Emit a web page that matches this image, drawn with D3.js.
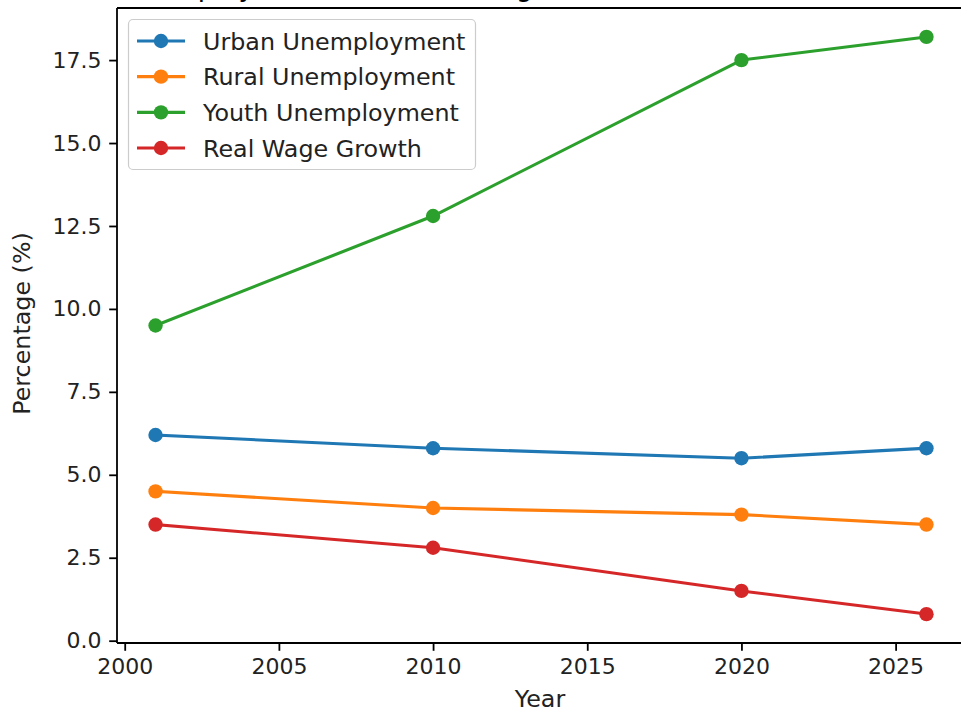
<!DOCTYPE html>
<html>
<head>
<meta charset="utf-8">
<script src="https://cdn.jsdelivr.net/npm/d3@7"></script>
<style>
html,body{margin:0;padding:0;background:#fff;overflow:hidden;}
svg{display:block;font-family:"DejaVu Sans",sans-serif;}
</style>
</head>
<body>
<svg id="chart" width="961" height="713"></svg>
<script>
const years = [2001, 2010, 2020, 2026];
const seriesNames = ["Urban Unemployment", "Rural Unemployment", "Youth Unemployment", "Real Wage Growth"];
const urban = [6.2, 5.8, 5.5, 5.8];
const rural = [4.5, 4.0, 3.8, 3.5];
const youth = [9.5, 12.8, 17.5, 18.2];
const wage = [3.5, 2.8, 1.5, 0.8];
const xTicks = [2000, 2005, 2010, 2015, 2020, 2025];
const yTicks = [0, 2.5, 5, 7.5, 10, 12.5, 15, 17.5];
const colors = ["#1f77b4", "#ff7f0e", "#2ca02c", "#d62728"];
const titleText = "Unemployment Rates and Wage Growth Trends (2001–2026)";

const series = [urban, rural, youth, wage].map((vals, i) => ({
  name: seriesNames[i], color: colors[i],
  values: vals.map((v, j) => ({year: years[j], value: v}))
}));

const svg = d3.select("#chart");
const L = 117, R = 965, T = 8, B = 643;
const fs = 22;
const fsLab = 23.8;

const x = d3.scaleLinear().domain([1999.75, 2027.25]).range([L, R]);
const y = d3.scaleLinear().domain([-0.07, 19.07]).range([B, T]);

// title (mostly above the visible area, as in the reference)
svg.append("text")
  .attr("x", 119).attr("y", -4.5)
  .attr("text-anchor", "start")
  .attr("font-size", 26.7)
  .attr("fill", "#000")
  .text(titleText);

// lines
const line = d3.line().x(d => x(d.year)).y(d => y(d.value));
const g = svg.append("g");
series.forEach(s => {
  g.append("path")
    .datum(s.values)
    .attr("d", line)
    .attr("fill", "none")
    .attr("stroke", s.color)
    .attr("stroke-width", 3.1)
    .attr("stroke-linejoin", "round")
    .attr("stroke-linecap", "square");
  g.selectAll(null).data(s.values).enter().append("circle")
    .attr("cx", d => x(d.year)).attr("cy", d => y(d.value))
    .attr("r", 7.2).attr("fill", s.color);
});

// spines (right spine lies outside the visible area)
const spine = svg.append("g").attr("stroke", "#000").attr("stroke-width", 1.8).attr("fill", "none");
spine.append("line").attr("x1", L).attr("x2", L).attr("y1", T).attr("y2", B);
spine.append("line").attr("x1", L).attr("x2", R + 10).attr("y1", T).attr("y2", T);
spine.append("line").attr("x1", L).attr("x2", R + 10).attr("y1", B).attr("y2", B);

// axes
const xAxis = d3.axisBottom(x).tickValues(xTicks).tickFormat(d3.format("d"))
  .tickSize(7.8).tickPadding(7.8).tickSizeOuter(0);
const gx = svg.append("g").attr("transform", `translate(0,${B})`).call(xAxis);
gx.select(".domain").remove();
gx.selectAll(".tick line").attr("stroke", "#000").attr("stroke-width", 1.8);
gx.selectAll(".tick text").attr("font-size", fs).attr("fill", "#222")
  .attr("font-family", "DejaVu Sans, sans-serif");

const yAxis = d3.axisLeft(y).tickValues(yTicks).tickFormat(d3.format(".1f"))
  .tickSize(7.8).tickPadding(7.8).tickSizeOuter(0);
const gy = svg.append("g").attr("transform", `translate(${L},0)`).call(yAxis);
gy.select(".domain").remove();
gy.selectAll(".tick line").attr("stroke", "#000").attr("stroke-width", 1.8);
gy.selectAll(".tick text").attr("font-size", fs).attr("fill", "#222")
  .attr("font-family", "DejaVu Sans, sans-serif");

// axis labels
svg.append("text")
  .attr("x", 540).attr("y", 706.5)
  .attr("text-anchor", "middle").attr("font-size", fsLab).attr("fill", "#222")
  .text("Year");
svg.append("text")
  .attr("transform", `translate(30,323.5) rotate(-90)`)
  .attr("text-anchor", "middle").attr("font-size", fsLab).attr("fill", "#222")
  .text("Percentage (%)");

// legend
const lg = svg.append("g");
lg.append("rect")
  .attr("x", 128.5).attr("y", 19.5).attr("width", 347).attr("height", 150)
  .attr("rx", 4.5).attr("ry", 4.5)
  .attr("fill", "#fff").attr("fill-opacity", 0.8)
  .attr("stroke", "#ccc").attr("stroke-width", 1.2);
const rowY = d3.scaleLinear().domain([0, 3]).range([41, 148]);
series.forEach((s, i) => {
  const yy = rowY(i);
  lg.append("line").attr("x1", 137).attr("x2", 185).attr("y1", yy).attr("y2", yy)
    .attr("stroke", s.color).attr("stroke-width", 3.1);
  lg.append("circle").attr("cx", 161).attr("cy", yy).attr("r", 7.2).attr("fill", s.color);
  lg.append("text").attr("x", 203).attr("y", yy).attr("dy", "0.36em")
    .attr("font-size", fsLab).attr("fill", "#222").text(s.name);
});
</script>
</body>
</html>
